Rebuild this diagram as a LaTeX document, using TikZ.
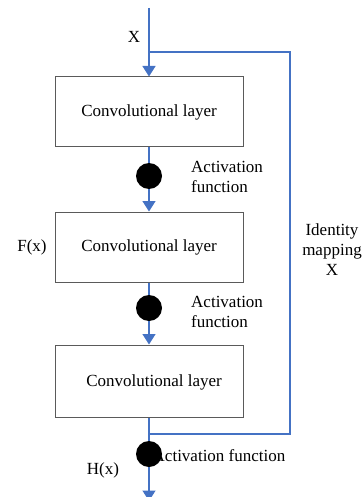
\documentclass[tikz,border=0pt]{standalone}
\usepackage{fontspec}
\setmainfont{Liberation Serif}
\usetikzlibrary{arrows.meta}
\definecolor{linkblue}{RGB}{68,114,196}
\definecolor{boxgray}{RGB}{90,90,90}
\tikzset{
  convbox/.style={draw=boxgray, line width=1pt, minimum width=188pt, minimum height=70pt, inner sep=0pt, fill=white},
  actdot/.style={circle, fill=black, minimum size=26pt, inner sep=0pt},
  link/.style={draw=linkblue, line width=1.3pt},
  arrowlink/.style={link, -{Triangle[width=13pt,length=10.5pt]}},
  lbl/.style={inner sep=0pt, font=\fontsize{17}{20}\selectfont},
}
\begin{document}
\begin{tikzpicture}[x=1pt,y=-1pt]
\useasboundingbox (0,0) rectangle (363,497);
% label partly hidden by the last dot
\node[lbl, anchor=west] (act3) at (152.5,456) {Activation function};
% boxes
\node[convbox, lbl] (box1) at (149,112) {Convolutional layer};
\node[convbox, lbl] (box2) at (149,247) {Convolutional layer};
\node[convbox, minimum height=72pt] (box3) at (149,381) {};
\node[lbl] (box3text) at (154,382) {Convolutional layer};
% dots
\node[actdot] (dot1) at (149,176) {};
\node[actdot] (dot2) at (149,308) {};
\node[actdot] (dot3) at (149,454) {};
% coordinates
\coordinate (top) at (149,8);
\coordinate (split) at (149,52);
\coordinate (rtop) at (290,52);
\coordinate (rbot) at (290,434);
\coordinate (join) at (149,434);
\coordinate (bottom) at (149,501);
% connectors
\draw[arrowlink] (top) -- (box1.north);
\draw[link] (box1.south) -- (dot1.north);
\draw[arrowlink] (dot1.south) -- (box2.north);
\draw[link] (box2.south) -- (dot2.north);
\draw[arrowlink] (dot2.south) -- (box3.north);
\draw[link] (box3.south) -- (dot3.north);
\draw[link] (split) -- (rtop) -- (rbot) -- (join);
\draw[arrowlink] (dot3.south) -- (bottom);
% labels
\node[lbl] (xlab) at (134,37) {X};
\node[lbl, anchor=west, align=left] (act1) at (191,176.5) {Activation\\function};
\node[lbl, anchor=west, align=left] (act2) at (191,312) {Activation\\function};
\node[lbl] (flab) at (32,247) {F(x)};
\node[lbl, align=center] (ident) at (332,250) {Identity\\mapping\\X};
\node[lbl] (hlab) at (103,470) {H(x)};
\end{tikzpicture}
\end{document}
